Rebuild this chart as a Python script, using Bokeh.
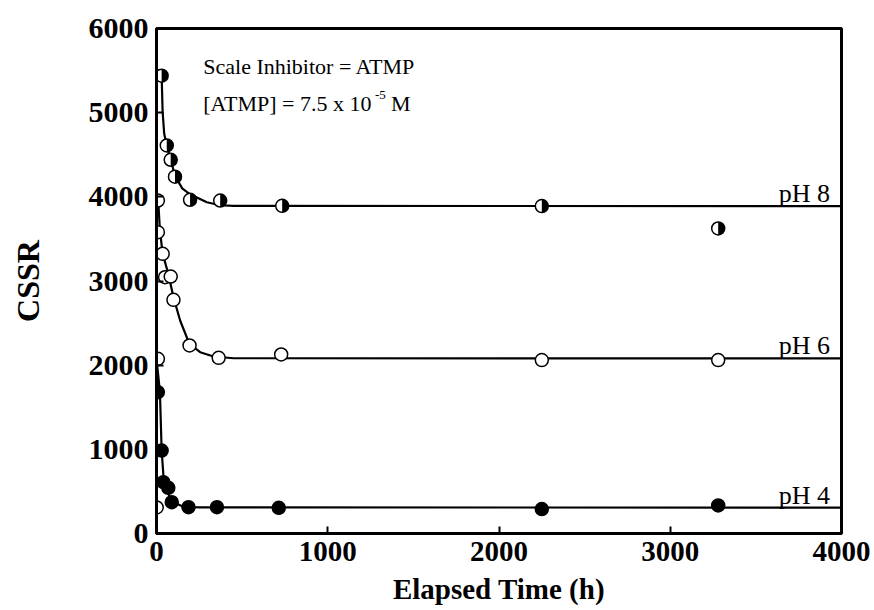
import math
from bokeh.plotting import figure
from bokeh.models import Range1d, FixedTicker, Label, ColumnDataSource
from bokeh.embed import file_html
from bokeh.resources import INLINE

# ---------------- data ----------------
# pH 8 (half-filled circles)
t_ph8 = [30, 60, 83, 108, 196, 372, 734, 2250, 3280]
y_ph8 = [5440, 4610, 4440, 4240, 3965, 3956, 3893, 3890, 3624]
# pH 6 (open circles)
t_ph6 = [1, 8, 8, 8, 36, 50, 83, 99, 193, 363, 728, 2250, 3280]
y_ph6 = [309, 2075, 3956, 3580, 3323, 3045, 3053, 2776, 2234, 2087, 2127, 2060, 2060]
# pH 4 (filled circles)
t_ph4 = [8, 30, 40, 69, 89, 187, 353, 714, 2250, 3280]
y_ph4 = [1679, 986, 610, 543, 372, 313, 313, 305, 290, 333]

# fitted curves
ct_ph8 = [30, 36, 45, 60, 83, 108, 150, 196, 294, 372, 450, 4000]
cy_ph8 = [5440, 5000, 4750, 4610, 4440, 4250, 4100, 4030, 3936, 3900, 3892, 3890]
ct_ph6 = [10, 20, 36, 69, 99, 138, 192, 255, 333, 450, 4000]
cy_ph6 = [3960, 3600, 3323, 3085, 2808, 2531, 2254, 2154, 2103, 2082, 2080]
ct_ph4 = [1, 20, 30, 40, 50, 89, 157, 250, 4000]
cy_ph4 = [2060, 1680, 990, 700, 560, 380, 318, 310, 308]

x_ticks = [0, 1000, 2000, 3000, 4000]
y_ticks = [0, 1000, 2000, 3000, 4000, 5000, 6000]

series_labels = ["pH 8", "pH 6", "pH 4"]
label_y = [4039, 2234, 451]

SERIF = "Liberation Serif"

p = figure(width=874, height=610, output_backend="svg", toolbar_location=None,
           x_range=Range1d(0, 4000), y_range=Range1d(0, 6000),
           min_border_left=156, min_border_right=33, min_border_top=28, min_border_bottom=77)
p.grid.visible = False
p.background_fill_color = "white"
p.border_fill_color = "white"
p.outline_line_color = "black"
p.outline_line_width = 3

for ax, ticks in ((p.xaxis[0], x_ticks), (p.yaxis[0], y_ticks)):
    ax.ticker = FixedTicker(ticks=ticks)
    ax.axis_line_width = 3
    ax.major_tick_in = 7
    ax.major_tick_out = 0
    ax.major_tick_line_width = 2
    ax.minor_tick_line_color = None
    ax.major_label_text_font = SERIF
    ax.major_label_text_font_style = "bold"
    ax.major_label_text_color = "black"
    ax.axis_label_text_font = SERIF
    ax.axis_label_text_font_style = "bold"
    ax.axis_label_text_color = "black"

p.xaxis.major_label_text_font_size = "29px"
p.yaxis.major_label_text_font_size = "30px"
p.xaxis.axis_label = "Elapsed Time (h)"
p.xaxis.axis_label_text_font_size = "29px"
p.xaxis.major_label_standoff = 8
p.xaxis.axis_label_standoff = 9
p.yaxis.axis_label = "CSSR"
p.yaxis.axis_label_text_font_size = "32px"
p.yaxis.major_label_standoff = 8
p.yaxis.axis_label_standoff = 40

# curves
for ct, cy in ((ct_ph8, cy_ph8), (ct_ph6, cy_ph6), (ct_ph4, cy_ph4)):
    p.line(ct, cy, line_color="black", line_width=2.2)

# markers
s8 = ColumnDataSource(dict(t=t_ph8, y=y_ph8))
s6 = ColumnDataSource(dict(t=t_ph6, y=y_ph6))
s4 = ColumnDataSource(dict(t=t_ph4, y=y_ph4))

p.scatter("t", "y", source=s6, size=13, fill_color="white", line_color="black", line_width=1.5)
p.scatter("t", "y", source=s4, size=13, fill_color="black", line_color="black", line_width=1.5)
p.scatter("t", "y", source=s8, size=13, fill_color="white", line_color="black", line_width=1.5)
p.wedge("t", "y", source=s8, radius=6.5, radius_units="screen",
        start_angle=-math.pi / 2, end_angle=math.pi / 2,
        fill_color="black", line_color=None)

# annotations
ann_size = 22
p.add_layout(Label(x=273, y=5548, text="Scale Inhibitor = ATMP", text_font=SERIF,
                   text_font_size=f"{ann_size}px", text_color="black", text_baseline="alphabetic"))
main_txt = "[ATMP] = 7.5 x 10"
main_w = 7.758 * ann_size
p.add_layout(Label(x=273, y=5109, text=main_txt, text_font=SERIF,
                   text_font_size=f"{ann_size}px", text_color="black", text_baseline="alphabetic"))
p.add_layout(Label(x=273, y=5109, x_offset=main_w + 1, y_offset=8, text="-5", text_font=SERIF,
                   text_font_size="13px", text_color="black", text_baseline="alphabetic"))
p.add_layout(Label(x=273, y=5109, x_offset=main_w + 1 + 11 + 5, text="M", text_font=SERIF,
                   text_font_size=f"{ann_size}px", text_color="black", text_baseline="alphabetic"))

for txt, ly in zip(series_labels, label_y):
    p.add_layout(Label(x=3933, y=ly, text=txt, text_font=SERIF, text_font_size="26px",
                       text_color="black", text_align="right", text_baseline="alphabetic"))

open("out.html", "w").write(file_html(p, INLINE))
